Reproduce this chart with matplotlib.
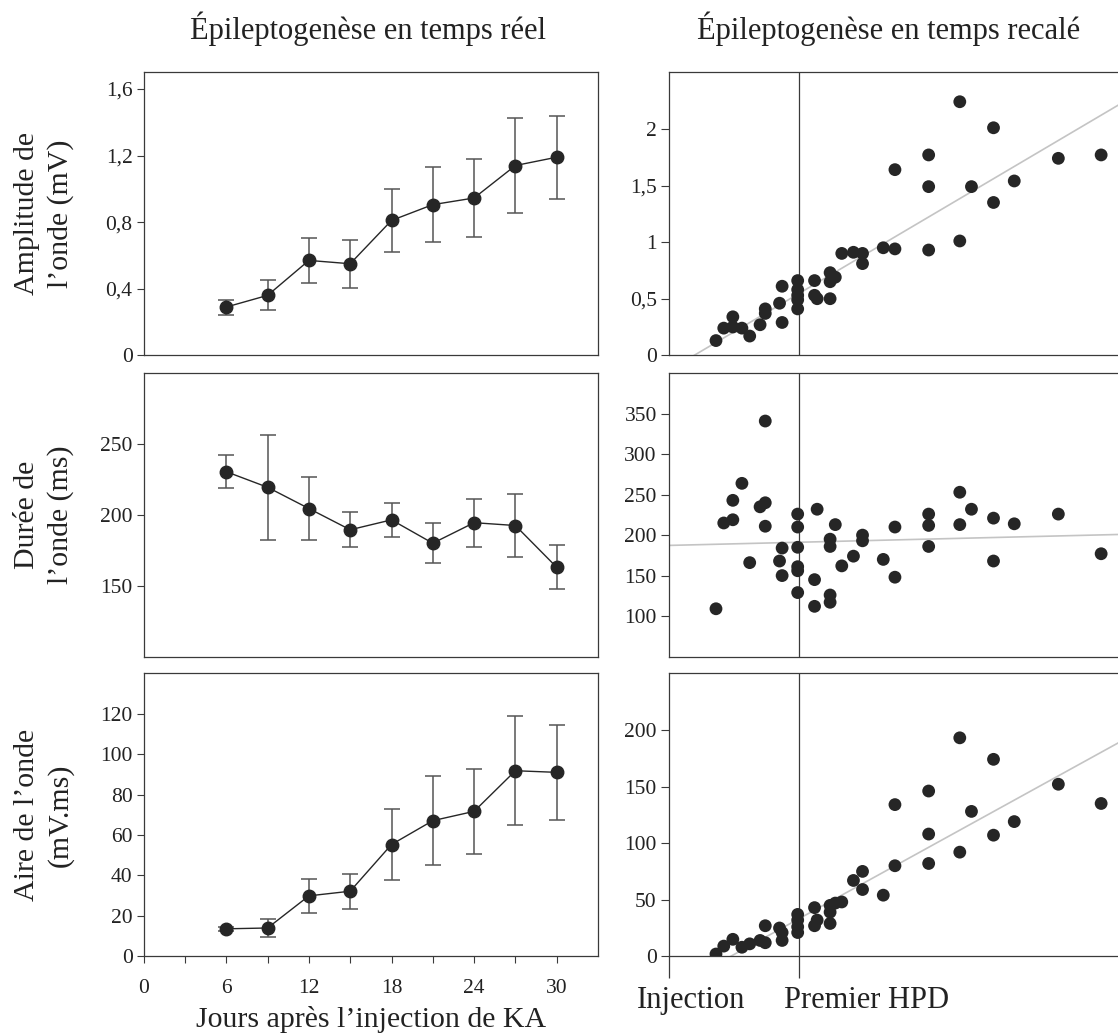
import numpy as np
import matplotlib
matplotlib.use('Agg')
import matplotlib.pyplot as plt
import matplotlib.transforms as mtransforms

plt.rcParams['font.family'] = ['Liberation Serif', 'DejaVu Serif']
plt.rcParams['axes.linewidth'] = 0.9

INK = '#262626'
SPINE = '#3a3a3a'
GREY_FIT = '#c4c4c4'

# ---- left column: real time (mean +/- error) ----
days = [6, 9, 12, 15, 18, 21, 24, 27, 30]
amp_mean = [0.29, 0.36, 0.57, 0.55, 0.81, 0.905, 0.945, 1.14, 1.19]
amp_err = [0.045, 0.09, 0.135, 0.145, 0.19, 0.225, 0.235, 0.285, 0.25]
dur_mean = [230.5, 219.5, 204.5, 189.5, 196.5, 180, 194.5, 192.5, 163]
dur_err = [11.5, 37, 22, 12.5, 12, 14, 17, 22, 15.5]
area_mean = [13.6, 14.0, 29.9, 32.2, 55.3, 67.1, 71.7, 91.8, 91.0]
area_err = [1.0, 4.5, 8.4, 8.7, 17.4, 22.0, 21.0, 27.0, 23.5]

# ---- right column: rescaled time (Injection = 0, first HPD = 10) ----
hpd_pos = 10
amp_x = [3.6, 4.2, 4.9, 4.9, 5.6, 6.2, 7.0, 7.4, 7.4, 8.5, 8.7, 8.7,
         9.9, 9.9, 9.9, 9.9, 9.9, 11.2, 11.2, 11.4, 12.4, 12.4, 12.4, 12.8,
         13.3, 14.2, 14.9, 14.9, 16.5, 17.4, 17.4, 20.0, 20.0, 20.0,
         22.4, 22.4, 23.3, 25.0, 25.0, 26.6, 30.0, 33.3]
amp_y = [0.13, 0.24, 0.34, 0.25, 0.24, 0.17, 0.27, 0.41, 0.37, 0.46, 0.61, 0.29,
         0.66, 0.58, 0.53, 0.49, 0.41, 0.66, 0.53, 0.50, 0.73, 0.65, 0.50, 0.69,
         0.90, 0.91, 0.90, 0.81, 0.95, 0.94, 1.64, 1.77, 1.49, 0.93,
         2.24, 1.01, 1.49, 2.01, 1.35, 1.54, 1.74, 1.77]
dur_x = [3.6, 4.2, 4.9, 4.9, 5.6, 6.2, 7.0, 7.4, 7.4, 7.4, 8.5, 8.7, 8.7,
         9.9, 9.9, 9.9, 9.9, 9.9, 9.9, 11.2, 11.2, 11.4, 12.4, 12.4, 12.4, 12.4,
         12.8, 13.3, 14.2, 14.9, 14.9, 16.5, 17.4, 17.4, 20.0, 20.0, 20.0,
         22.4, 22.4, 23.3, 25.0, 25.0, 26.6, 30.0, 33.3]
dur_y = [109, 215, 243, 219, 264, 166, 235, 240, 211, 341, 168, 184, 150,
         226, 210, 185, 161, 156, 129, 145, 112, 232, 195, 186, 126, 117,
         213, 162, 174, 200, 193, 170, 210, 148, 226, 212, 186,
         253, 213, 232, 221, 168, 214, 226, 177]
area_x = [3.6, 4.2, 4.9, 5.6, 6.2, 7.0, 7.4, 7.4, 8.5, 8.7, 8.7,
          9.9, 9.9, 9.9, 9.9, 11.2, 11.2, 11.4, 12.4, 12.4, 12.4, 12.8,
          13.3, 14.2, 14.9, 14.9, 16.5, 17.4, 17.4, 20.0, 20.0, 20.0,
          22.4, 22.4, 23.3, 25.0, 25.0, 26.6, 30.0, 33.3]
area_y = [2, 9, 15, 8, 11, 14, 27, 12, 25, 21, 14,
          37, 32, 26, 21, 43, 27, 32, 45, 39, 29, 47,
          48, 67, 75, 59, 54, 134, 80, 146, 108, 82,
          193, 92, 128, 174, 107, 119, 152, 135]
# regression lines (intercept, slope)
amp_fit = (-0.13, 0.0676)
dur_fit = (187.3, 0.39)
area_fit = (-29.9, 6.31)

ylabels = ['Amplitude de\nl\u2019onde (mV)', 'Dur\u00e9e de\nl\u2019onde (ms)',
           'Aire de l\u2019onde\n(mV.ms)']

fig = plt.figure(figsize=(11.18, 10.35), dpi=100)
W, H = 1118, 1035


def px_axes(x0, y0, x1, y1):
    return fig.add_axes([x0 / W, 1 - y1 / H, (x1 - x0) / W, (y1 - y0) / H])


rows = [(72.3, 355.3), (373.3, 656.5), (673.3, 956.3)]
left_axes = [px_axes(143.7, a, 598, b) for a, b in rows]
right_axes = [px_axes(669.3, a, 1118, b) for a, b in rows]

# left column
left_data = [(amp_mean, amp_err, (0, 1.7), [0, 0.4, 0.8, 1.2, 1.6], ['0', '0,4', '0,8', '1,2', '1,6']),
             (dur_mean, dur_err, (100, 300), [150, 200, 250], ['150', '200', '250']),
             (area_mean, area_err, (0, 140), [0, 20, 40, 60, 80, 100, 120],
              ['0', '20', '40', '60', '80', '100', '120'])]
for ax, (m, e, yl, yt, ytl) in zip(left_axes, left_data):
    ax.errorbar(days, m, yerr=e, fmt='none', ecolor='#555555', elinewidth=1.1,
                capsize=5.5, capthick=1.1, zorder=2)
    ax.plot(days, m, '-', color=INK, lw=1.0, zorder=3)
    ax.plot(days, m, 'o', color=INK, ms=9, zorder=4)
    ax.set_xlim(0, 33)
    ax.set_ylim(*yl)
    ax.set_yticks(yt)
    ax.set_yticklabels(ytl)
    for s in ax.spines.values():
        s.set_color(SPINE)
    ax.tick_params(axis='y', direction='out', length=5, width=0.8, colors=SPINE,
                   labelcolor='#222222', labelsize=15.5, pad=3)
    ax.tick_params(axis='x', bottom=False, labelbottom=False)

axb = left_axes[2]
axb.set_xticks(range(0, 31, 3))
axb.set_xticklabels([str(d) if d % 6 == 0 else '' for d in range(0, 31, 3)])
axb.tick_params(axis='x', bottom=True, labelbottom=True, direction='out', length=5,
                width=0.8, colors=SPINE, labelcolor='#222222', labelsize=15.5, pad=11)
axb.set_xlabel('Jours apr\u00e8s l\u2019injection de KA', fontsize=21.5, color='#222222', labelpad=6)

# right column
right_data = [(amp_x, amp_y, amp_fit, (0, 2.5), [0, 0.5, 1, 1.5, 2], ['0', '0,5', '1', '1,5', '2']),
              (dur_x, dur_y, dur_fit, (50, 400), [100, 150, 200, 250, 300, 350],
               ['100', '150', '200', '250', '300', '350']),
              (area_x, area_y, area_fit, (0, 250), [0, 50, 100, 150, 200],
               ['0', '50', '100', '150', '200'])]
for ax, (xs, ys, fit, yl, yt, ytl) in zip(right_axes, right_data):
    ax.set_xlim(0, 34.6)
    ax.set_ylim(*yl)
    ax.axline((0, fit[0]), slope=fit[1], color=GREY_FIT, lw=1.2, zorder=1)
    ax.axvline(hpd_pos, color=SPINE, lw=0.9, zorder=2)
    ax.scatter(xs, ys, s=85, color=INK, edgecolors='none', zorder=3)
    ax.set_yticks(yt)
    ax.set_yticklabels(ytl)
    ax.spines['right'].set_visible(False)
    for s in ax.spines.values():
        s.set_color(SPINE)
    ax.tick_params(axis='y', direction='out', length=6, width=0.8, colors=SPINE,
                   labelcolor='#222222', labelsize=15.5, pad=3)
    ax.tick_params(axis='x', bottom=False, labelbottom=False)

axr = right_axes[2]
axr.set_xticks([0, hpd_pos])
axr.set_xticklabels(['', ''])
axr.tick_params(axis='x', bottom=True, direction='out', length=16, width=0.9, colors=SPINE)
trans = mtransforms.blended_transform_factory(axr.transData, axr.transAxes)
axr.text(1.7, -0.155, 'Injection', transform=trans, ha='center', va='center',
         fontsize=22, color='#222222')
axr.text(15.2, -0.155, 'Premier HPD', transform=trans, ha='center', va='center',
         fontsize=22, color='#222222')

# column titles
fig.text(368 / W, 1 - 29 / H, '\u00c9pileptogen\u00e8se en temps r\u00e9el', ha='center', va='center',
         fontsize=22, color='#222222')
fig.text(889 / W, 1 - 29 / H, '\u00c9pileptogen\u00e8se en temps recal\u00e9', ha='center', va='center',
         fontsize=22, color='#222222')

# row labels
for (a, b), lab in zip(rows, ylabels):
    fig.text(44 / W, 1 - (a + b) / 2 / H, lab, rotation=90, ha='center', va='center',
             multialignment='center', fontsize=21.5, color='#222222', linespacing=1.3)

fig.savefig('out.png', dpi=100)
